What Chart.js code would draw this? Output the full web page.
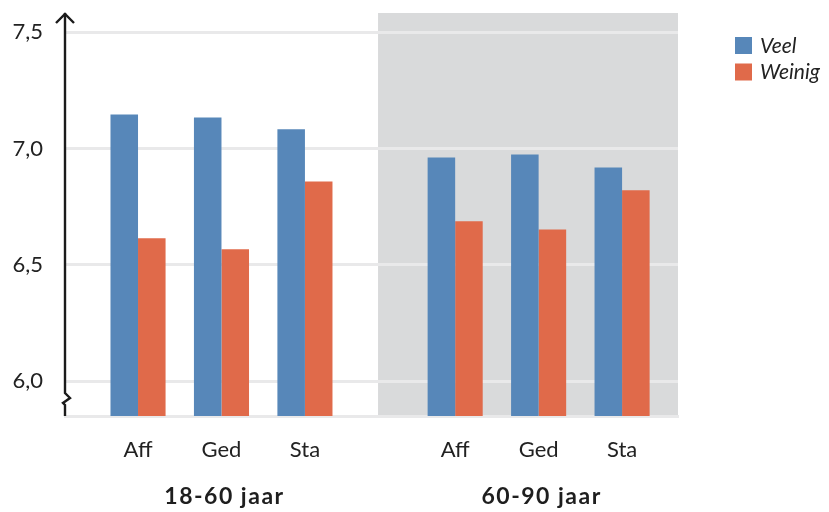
<!DOCTYPE html>
<html>
<head>
<meta charset="utf-8">
<script src="https://cdn.jsdelivr.net/npm/chart.js@4"></script>
<style>
html,body{margin:0;padding:0;background:#fff;}
#wrap{width:829px;height:512px;}
</style>
</head>
<body>
<div id="wrap"><canvas id="c" width="829" height="512"></canvas></div>
<script>
// ---- data ----
const categories = ['Aff', 'Ged', 'Sta', 'Aff', 'Ged', 'Sta'];
const groups = ['18-60 jaar', '60-90 jaar'];
const seriesNames = ['Veel', 'Weinig'];
const veel = [7.146, 7.133, 7.082, 6.961, 6.974, 6.918];
const weinig = [6.614, 6.567, 6.858, 6.687, 6.652, 6.820];
const yTicks = [6.0, 6.5, 7.0, 7.5];

// ---- layout helpers ----
const GROUP_SIZE = 3;
const GROUP_GAP = 0.8;
const pos = categories.map((c, i) => i + 1 + Math.floor(i / GROUP_SIZE) * GROUP_GAP);
const FONT = 'Lato, "Open Sans", sans-serif';
const BLUE = '#5787b9';
const ORANGE = '#e06a4a';

const overlay = {
  id: 'overlay',
  beforeDraw(chart) {
    const { ctx, chartArea: a, scales: { x } } = chart;
    const mid = (pos[GROUP_SIZE - 1] + pos[GROUP_SIZE]) / 2;
    const xs = x.getPixelForValue(mid) - 2;
    ctx.save();
    ctx.fillStyle = '#d9dadb';
    ctx.fillRect(xs, a.top, a.right - xs, a.bottom - a.top);
    ctx.restore();
  },
  afterDraw(chart) {
    const { ctx, chartArea: a, scales: { x } } = chart;
    ctx.save();
    // y axis with break and arrow
    const ax = a.left;
    ctx.strokeStyle = '#1b1b1b';
    ctx.lineWidth = 2.4;
    ctx.lineJoin = 'miter';
    ctx.beginPath();
    ctx.moveTo(ax, a.bottom);
    ctx.lineTo(ax, 405);
    ctx.lineTo(ax - 2, 403);
    ctx.lineTo(ax + 5, 398);
    ctx.lineTo(ax, 393);
    ctx.lineTo(ax, a.top);
    ctx.stroke();
    ctx.beginPath();
    ctx.moveTo(ax - 9, a.top + 10);
    ctx.lineTo(ax, a.top + 1);
    ctx.lineTo(ax + 9, a.top + 10);
    ctx.stroke();
    // group labels
    ctx.fillStyle = '#1e1e1e';
    ctx.font = 'bold 23px ' + FONT;
    ctx.letterSpacing = '1.5px';
    ctx.textAlign = 'center';
    ctx.textBaseline = 'middle';
    groups.forEach((g, gi) => {
      const p0 = pos[gi * GROUP_SIZE], p1 = pos[gi * GROUP_SIZE + GROUP_SIZE - 1];
      ctx.fillText(g, x.getPixelForValue((p0 + p1) / 2) + 3, 497);
    });
    ctx.letterSpacing = '0px';
    // legend
    const colors = [BLUE, ORANGE];
    ctx.font = 'italic 21px ' + FONT;
    ctx.textAlign = 'left';
    seriesNames.forEach((n, i) => {
      const y = 37 + i * 26.5;
      ctx.fillStyle = colors[i];
      ctx.fillRect(735, y, 17, 17);
      ctx.fillStyle = '#222';
      ctx.fillText(n, 760, y + 9);
    });
    ctx.restore();
  }
};

new Chart(document.getElementById('c'), {
  type: 'bar',
  data: {
    datasets: [
      { label: seriesNames[0], data: veel.map((v, i) => ({ x: pos[i], y: v })), backgroundColor: BLUE },
      { label: seriesNames[1], data: weinig.map((v, i) => ({ x: pos[i], y: v })), backgroundColor: ORANGE }
    ]
  },
  options: {
    responsive: false,
    animation: false,
    devicePixelRatio: 1,
    layout: { padding: { top: 13, right: 151, left: 0, bottom: 0 } },
    datasets: { bar: { categoryPercentage: 0.66, barPercentage: 1.0 } },
    plugins: { legend: { display: false }, tooltip: { enabled: false } },
    scales: {
      x: {
        type: 'linear',
        offset: false,
        min: 0.125,
        max: 7.47,
        grid: { display: false, drawTicks: false },
        border: { display: true, color: '#e9e9ea', width: 3 },
        afterBuildTicks: (axis) => { axis.ticks = pos.map(v => ({ value: v })); },
        afterFit: (s) => { s.height = 96; s.paddingLeft = 0; s.paddingRight = 0; },
        ticks: {
          autoSkip: false,
          maxRotation: 0,
          padding: 21,
          color: '#222',
          font: { family: FONT, size: 22 },
          callback: (v) => { const i = pos.indexOf(v); return i >= 0 ? categories[i] : ''; }
        }
      },
      y: {
        min: 5.85,
        max: 7.582,
        beginAtZero: false,
        border: { display: false },
        grid: { color: '#e9e9ea', lineWidth: 3, drawTicks: false },
        afterBuildTicks: (axis) => { axis.ticks = yTicks.map(v => ({ value: v })); },
        afterFit: (s) => { s.width = 65; s.paddingTop = 0; s.paddingBottom = 0; },
        ticks: {
          padding: 22,
          color: '#222',
          font: { family: FONT, size: 22 },
          callback: (v) => v.toFixed(1).replace('.', ',')
        }
      }
    }
  },
  plugins: [overlay]
});
</script>
</body>
</html>
